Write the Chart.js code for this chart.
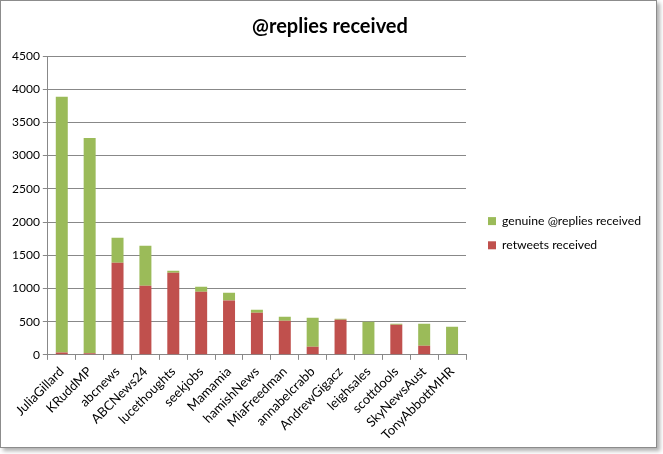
<!DOCTYPE html>
<html><head><meta charset="utf-8">
<script src="https://cdn.jsdelivr.net/npm/chart.js@4/dist/chart.umd.min.js"></script>
<style>
html,body{margin:0;padding:0;background:#fff;}
#wrap{position:absolute;left:0;top:0;width:655px;height:446px;border:1px solid #8c8c8c;box-shadow:3px 3px 4px #b0b0b0;background:#fff;}
canvas{display:block;}
</style></head><body>
<div id="wrap"><canvas id="c" width="655" height="446"></canvas></div>
<script>
const categories = ["JuliaGillard","KRuddMP","abcnews","ABCNews24","lucethoughts","seekjobs","Mamamia","hamishNews","MiaFreedman","annabelcrabb","AndrewGigacz","leighsales","scottdools","SkyNewsAust","TonyAbbottMHR"];
const retweets = [35,25,1388,1042,1237,952,818,633,513,121,528,0,452,136,0];
const genuine = [3850,3242,376,601,31,75,119,45,60,437,15,497,15,331,422];
const yTicks = [0,500,1000,1500,2000,2500,3000,3500,4000,4500];

const font = "Lato, 'Liberation Sans', sans-serif";
new Chart(document.getElementById('c'), {
  type: 'bar',
  data: {
    labels: categories,
    datasets: [
      {label: 'retweets received', data: retweets, backgroundColor: '#C0504D', barPercentage: 0.43, categoryPercentage: 1},
      {label: 'genuine @replies received', data: genuine, backgroundColor: '#9BBB59', barPercentage: 0.43, categoryPercentage: 1}
    ]
  },
  options: {
    responsive: false,
    animation: false,
    layout: {padding: {left: 8, right: 5, top: 4, bottom: 0}},
    plugins: {
      title: {display: true, text: '@replies received', color: '#000', font: {family: font, size: 20, weight: 'bold'}, padding: {top: 10, bottom: 17}},
      legend: {position: 'right', reverse: true, align: 'center', maxWidth: 260,
        title: {display: true, text: ' ', font: {family: font, size: 12}, padding: {top: 0, bottom: 0}},
        labels: {boxWidth: 8, boxHeight: 8, color: '#000', font: {family: font, size: 12.2}, padding: 12}},
      tooltip: {enabled: false}
    },
    scales: {
      x: {stacked: true,
        grid: {offset: true, drawOnChartArea: false, color: '#888', tickLength: 5},
        border: {color: '#888'},
        ticks: {minRotation: 45, maxRotation: 45, color: '#000', font: {family: font, size: 13}, padding: 4, autoSkip: false}
      },
      y: {stacked: true, min: 0, max: 4500,
        afterBuildTicks: ax => { ax.ticks = yTicks.map(v => ({value: v})); },
        grid: {color: '#888', tickLength: 5},
        border: {color: '#888'},
        ticks: {color: '#000', font: {family: font, size: 12}, padding: 3, callback: v => String(v)}
      },
      gap: {type: 'linear', position: 'right', display: true,
        grid: {display: false}, border: {display: false}, ticks: {display: false},
        afterFit: s => { s.width = 10; }
      }
    }
  }
});
</script>
</body></html>
